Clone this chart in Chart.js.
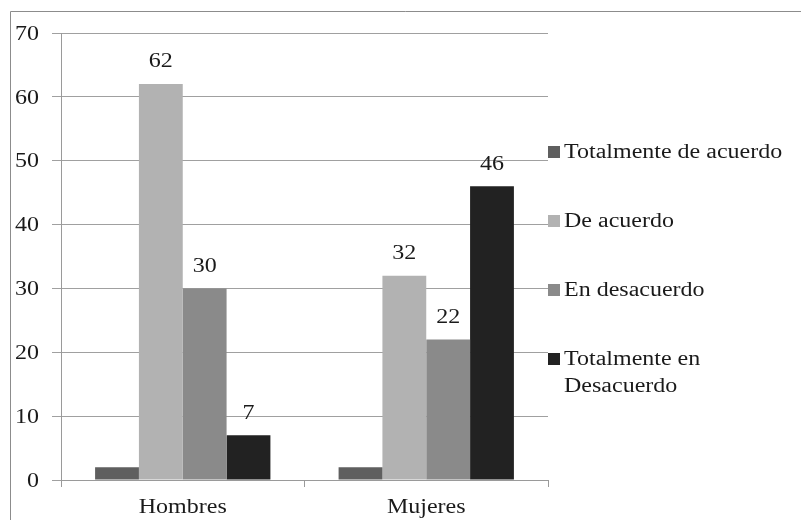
<!DOCTYPE html>
<html>
<head>
<meta charset="utf-8">
<script src="https://cdn.jsdelivr.net/npm/chart.js@4/dist/chart.umd.min.js"></script>
<style>
  html, body { margin: 0; padding: 0; background: #fff; }
  #wrap { width: 801px; height: 520px; }
</style>
</head>
<body>
<div id="wrap"><canvas id="chart"></canvas></div>
<script>
// data
const categories = ["Hombres", "Mujeres"];
const seriesNames = ["Totalmente de acuerdo", "De acuerdo", "En desacuerdo", "Totalmente en Desacuerdo"];
const totalmenteDeAcuerdo = [2, 2];
const deAcuerdo = [62, 32];
const enDesacuerdo = [30, 22];
const totalmenteEnDesacuerdo = [7, 46];
const yTickValues = [0, 10, 20, 30, 40, 50, 60, 70];
const showValueLabel = [false, true, true, true];

const colors = ["#5f5f5f", "#b2b2b2", "#8a8a8a", "#222222"];
const serif = "'Liberation Serif', 'Times New Roman', serif";
const TEXT_FONT = "20px " + serif;
const STRETCH = 1.2; // the source text is a bit wide

// draws text stretched horizontally, anchored at x (align) and vertical middle at y
function wideText(ctx, text, x, y, align) {
  ctx.save();
  ctx.translate(x, y);
  ctx.scale(STRETCH, 1);
  ctx.textAlign = align;
  ctx.textBaseline = "middle";
  ctx.fillText(text, 0, 0);
  ctx.restore();
}

// tick labels, value labels, legend and frame
const textLayer = {
  id: "textLayer",
  afterDraw(chart) {
    const ctx = chart.ctx;
    const xs = chart.scales.x, ys = chart.scales.y;
    ctx.save();

    // frame (left and top edges only visible)
    ctx.strokeStyle = "#8c8c8c";
    ctx.lineWidth = 1;
    ctx.beginPath();
    ctx.moveTo(10.5, 520);
    ctx.lineTo(10.5, 11.5);
    ctx.lineTo(801, 11.5);
    ctx.stroke();

    ctx.font = TEXT_FONT;
    ctx.fillStyle = "#1a1a1a";

    // y tick labels
    yTickValues.forEach(v => wideText(ctx, String(v), 39, ys.getPixelForValue(v) + 1.5, "right"));
    // x tick labels
    categories.forEach((c, i) => wideText(ctx, c, xs.getPixelForValue(i), 507.5, "center"));

    // value labels above bars
    chart.data.datasets.forEach((ds, i) => {
      if (!showValueLabel[i]) return;
      chart.getDatasetMeta(i).data.forEach((bar, j) => {
        wideText(ctx, String(ds.data[j]), bar.x, bar.y - 22, "center");
      });
    });

    // legend on the right
    const x0 = 548, textX = 564, maxW = 225;
    let y = 152;
    chart.data.datasets.forEach(ds => {
      ctx.fillStyle = ds.backgroundColor;
      ctx.fillRect(x0, y - 6, 12, 12);
      const words = ds.label.split(" ");
      const lines = [];
      let cur = "";
      words.forEach(w => {
        const t = cur ? cur + " " + w : w;
        if (ctx.measureText(t).width * STRETCH > maxW && cur) { lines.push(cur); cur = w; }
        else cur = t;
      });
      lines.push(cur);
      ctx.fillStyle = "#1a1a1a";
      lines.forEach((ln, k) => wideText(ctx, ln, textX, y + 1 + k * 27, "left"));
      y += 69;
    });
    ctx.restore();
  }
};

const datasets = [totalmenteDeAcuerdo, deAcuerdo, enDesacuerdo, totalmenteEnDesacuerdo].map((vals, i) => ({
  label: seriesNames[i],
  data: vals,
  backgroundColor: colors[i],
  borderWidth: 0,
  categoryPercentage: 0.72,
  barPercentage: 1.0
}));

new Chart(document.getElementById("chart"), {
  type: "bar",
  data: { labels: categories, datasets: datasets },
  options: {
    responsive: true,
    maintainAspectRatio: false,
    animation: false,
    devicePixelRatio: 1,
    layout: { padding: { left: 0, top: 33, right: 253, bottom: 0 } },
    plugins: {
      legend: { display: false },
      tooltip: { enabled: false }
    },
    scales: {
      x: {
        grid: { drawOnChartArea: false, drawTicks: true, tickLength: 7, color: "#9a9a9a", offset: true },
        border: { color: "#9a9a9a" },
        ticks: { color: "rgba(0,0,0,0)", padding: 9, font: { family: serif, size: 19 } },
        afterFit(scale) { scale.height = 40; }
      },
      y: {
        min: 0,
        max: 70,
        afterBuildTicks(scale) { scale.ticks = yTickValues.map(v => ({ value: v })); },
        grid: { color: "#a0a0a0", tickLength: 9 },
        border: { color: "#9a9a9a" },
        ticks: { color: "rgba(0,0,0,0)", padding: 13, font: { family: serif, size: 18 } },
        afterFit(scale) { scale.width = 61; }
      }
    }
  },
  plugins: [textLayer]
});
</script>
</body>
</html>
